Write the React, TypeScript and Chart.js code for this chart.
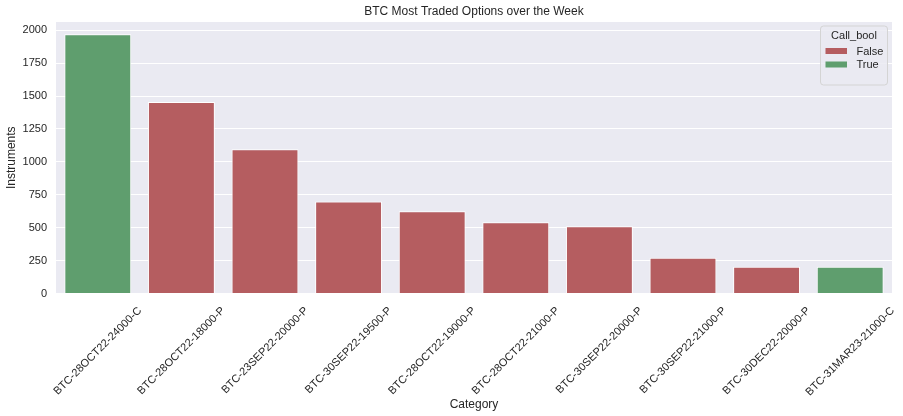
import React, { useEffect, useRef } from "react";
import { Chart, registerables } from "chart.js";

Chart.register(...registerables);

const categories = [
  "BTC-28OCT22-24000-C",
  "BTC-28OCT22-18000-P",
  "BTC-23SEP22-20000-P",
  "BTC-30SEP22-19500-P",
  "BTC-28OCT22-19000-P",
  "BTC-28OCT22-21000-P",
  "BTC-30SEP22-20000-P",
  "BTC-30SEP22-21000-P",
  "BTC-30DEC22-20000-P",
  "BTC-31MAR23-21000-C",
];
const instruments = [1970, 1455, 1096, 700, 625, 541, 511, 272, 204, 204];
const callBool = [true, false, false, false, false, false, false, false, false, true];
const legendLabels = ["False", "True"];
const yTicks = [0, 250, 500, 750, 1000, 1250, 1500, 1750, 2000];

const RED = "#b55d60";
const GREEN = "#5f9e6e";
const FONT = "'Liberation Sans', Arial, sans-serif";
const TEXT = "#262626";

const overlay = {
  id: "overlay",
  afterDraw(chart: any) {
    const ctx = chart.ctx;
    const area = chart.chartArea;
    ctx.save();
    // title
    ctx.fillStyle = TEXT;
    ctx.font = `12px ${FONT}`;
    ctx.textAlign = "center";
    ctx.textBaseline = "middle";
    ctx.fillText("BTC Most Traded Options over the Week", (area.left + area.right) / 2, 12);

    // x tick labels, rotated 45deg, bbox centred on tick (matplotlib style)
    const xs = chart.scales.x;
    ctx.font = `11px ${FONT}`;
    const cos = Math.SQRT1_2;
    categories.forEach((lab, i) => {
      const px = xs.getPixelForValue(i);
      const w = ctx.measureText(lab).width;
      const h = 11;
      const bh = (w + h) * cos;
      const cy = area.bottom + 11.5 + bh / 2;
      ctx.save();
      ctx.translate(px, cy);
      ctx.rotate(-Math.PI / 4);
      ctx.fillStyle = TEXT;
      ctx.textAlign = "center";
      ctx.textBaseline = "middle";
      ctx.fillText(lab, 0, 0);
      ctx.restore();
    });

    // legend
    const bx = area.right - 71.5;
    const by = area.top + 4;
    const bw = 67;
    const bh = 59;
    ctx.beginPath();
    const r = 3;
    ctx.moveTo(bx + r, by);
    ctx.lineTo(bx + bw - r, by);
    ctx.quadraticCurveTo(bx + bw, by, bx + bw, by + r);
    ctx.lineTo(bx + bw, by + bh - r);
    ctx.quadraticCurveTo(bx + bw, by + bh, bx + bw - r, by + bh);
    ctx.lineTo(bx + r, by + bh);
    ctx.quadraticCurveTo(bx, by + bh, bx, by + bh - r);
    ctx.lineTo(bx, by + r);
    ctx.quadraticCurveTo(bx, by, bx + r, by);
    ctx.closePath();
    ctx.fillStyle = "rgba(234,234,242,0.85)";
    ctx.fill();
    ctx.strokeStyle = "#d4d4d4";
    ctx.lineWidth = 1;
    ctx.stroke();
    ctx.fillStyle = TEXT;
    ctx.font = `11px ${FONT}`;
    ctx.textAlign = "center";
    ctx.fillText("Call_bool", bx + bw / 2, by + 10);
    const colors = [RED, GREEN];
    legendLabels.forEach((lab, i) => {
      const y = by + 22 + i * 13.5;
      ctx.fillStyle = colors[i];
      ctx.fillRect(bx + 5, y, 21.5, 6);
      ctx.fillStyle = TEXT;
      ctx.textAlign = "left";
      ctx.fillText(lab, bx + 36, y + 3.5);
    });
    ctx.restore();
  },
};

export default function App() {
  const ref = useRef<HTMLCanvasElement | null>(null);
  useEffect(() => {
    if (!ref.current) return;
    const chart = new Chart(ref.current, {
      type: "bar",
      data: {
        labels: categories,
        datasets: [
          {
            label: "Instruments",
            data: instruments,
            backgroundColor: callBool.map((c) => (c ? GREEN : RED)),
            borderColor: "#ffffff",
            borderWidth: 1,
            barPercentage: 0.8,
            categoryPercentage: 1.0,
          },
        ],
      },
      options: {
        animation: false,
        responsive: true,
        maintainAspectRatio: false,
        layout: { padding: { top: 22, right: 11, left: 0, bottom: 0 } },
        plugins: {
          legend: { display: false },
          title: { display: false },
          tooltip: { enabled: false },
        },
        scales: {
          x: {
            grid: { display: false },
            border: { display: false },
            ticks: { display: false },
            title: {
              display: true,
              text: "Category",
              color: TEXT,
              font: { family: FONT, size: 12 },
              padding: { top: 0, bottom: 4 },
            },
            afterFit: (s: any) => {
              s.height = 122.5;
            },
          },
          y: {
            min: 0,
            max: 2063,
            afterBuildTicks: (s: any) => {
              s.ticks = yTicks.map((v) => ({ value: v }));
            },
            grid: { color: "#ffffff", lineWidth: 1.1, drawTicks: false },
            border: { display: false },
            ticks: {
              color: TEXT,
              font: { family: FONT, size: 11 },
              padding: 9,
              callback: (v: any) => String(v),
            },
            title: {
              display: true,
              text: "Instruments",
              color: TEXT,
              font: { family: FONT, size: 12 },
              padding: { top: 4, bottom: 0 },
            },
            afterFit: (s: any) => {
              s.width = 56;
            },
          },
        },
      },
      plugins: [
        {
          id: "bg",
          beforeDraw(chart: any) {
            const { ctx, chartArea: a } = chart;
            ctx.save();
            ctx.fillStyle = "#ffffff";
            ctx.fillRect(0, 0, chart.width, chart.height);
            ctx.fillStyle = "#eaeaf2";
            ctx.fillRect(a.left, a.top, a.right - a.left, a.bottom - a.top);
            ctx.restore();
          },
        },
        overlay,
      ],
    });
    return () => chart.destroy();
  }, []);
  return (
    <div style={{ position: "fixed", left: 0, top: 0, width: 903, height: 416, background: "#fff" }}>
      <canvas ref={ref} />
    </div>
  );
}
